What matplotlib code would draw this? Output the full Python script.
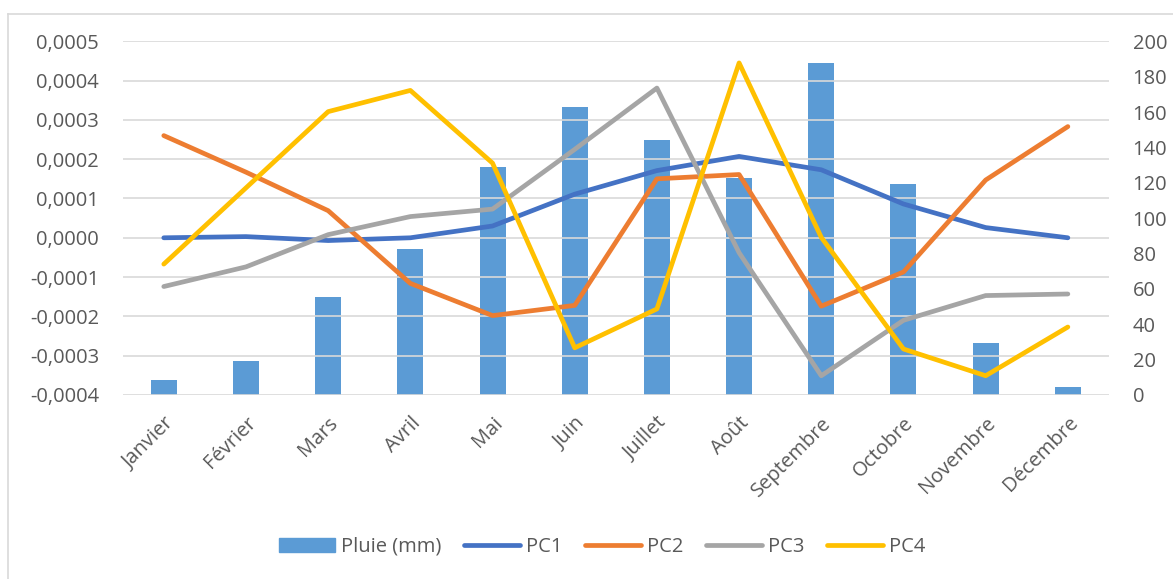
import matplotlib
matplotlib.use("Agg")
import matplotlib.pyplot as plt
from matplotlib.ticker import FuncFormatter
from matplotlib.lines import Line2D
import numpy as np

# données
mois = ["Janvier", "Février", "Mars", "Avril", "Mai", "Juin",
        "Juillet", "Août", "Septembre", "Octobre", "Novembre", "Décembre"]
pluie = [8.7, 19.1, 55.6, 82.4, 129.1, 163.1, 144.2, 122.7, 187.7, 119.3, 29.5, 4.5]
pc1 = [0.0, 0.000003, -0.000007, 0.0, 0.00003, 0.000111,
       0.000171, 0.000207, 0.000173, 0.000086, 0.000026, 0.0]
pc2 = [0.00026, 0.000167, 0.000069, -0.000116, -0.000198, -0.000172,
       0.00015, 0.000161, -0.000174, -0.000087, 0.000147, 0.000283]
pc3 = [-0.000124, -0.000074, 0.000008, 0.000054, 0.000073, 0.000225,
       0.000381, -0.000038, -0.000351, -0.00021, -0.000147, -0.000143]
pc4 = [-0.000067, 0.000127, 0.000321, 0.000375, 0.000190, -0.00028,
       -0.000181, 0.000445, 0.000001, -0.000283, -0.000351, -0.000227]

couleurs = {"PC1": "#4472C4", "PC2": "#ED7D31", "PC3": "#A5A5A5", "PC4": "#FFC000"}
bleu_barre = "#5B9BD5"
gris_texte = "#595959"

plt.rcParams['font.family'] = ['Open Sans', 'DejaVu Sans']
plt.rcParams['font.size'] = 14.5

fig = plt.figure(figsize=(11.73, 5.79), dpi=100)
ax = fig.add_axes([0.1046, 0.3178, 0.8408, 0.6109])
ax2 = ax.twinx()

x = np.arange(len(mois))

# barres sur l'axe de droite
ax2.bar(x, pluie, width=0.316, color=bleu_barre, zorder=1)
ax2.set_ylim(0, 200)
ax2.set_yticks(np.arange(0, 201, 20))

# courbes sur l'axe de gauche
for nom, serie in zip(["PC1", "PC2", "PC3", "PC4"], [pc1, pc2, pc3, pc4]):
    ax.plot(x, serie, color=couleurs[nom], lw=3.4, solid_capstyle="round",
            solid_joinstyle="round", zorder=3)

ax.set_zorder(ax2.get_zorder() + 1)
ax.patch.set_visible(False)

ax.set_xlim(-0.5, 11.5)
ax.set_ylim(-0.0004, 0.0005)
ax.set_yticks(np.arange(-4, 6) * 0.0001)
ax.yaxis.set_major_formatter(
    FuncFormatter(lambda v, p: ("%.4f" % round(v, 6)).replace(".", ",").replace("-0,0000", "0,0000")))

ax.grid(axis="y", color="#D9D9D9", lw=1.2, zorder=0)
ax.set_axisbelow(True)

for a in (ax, ax2):
    for s in a.spines.values():
        s.set_visible(False)

ax.tick_params(axis="y", length=0, pad=17, colors=gris_texte)
ax2.tick_params(axis="y", length=0, pad=17, colors=gris_texte)
ax.tick_params(axis="x", length=0, pad=13, colors=gris_texte)

ax.set_xticks(x)
ax.set_xticklabels(mois, rotation=45, ha="right", va="top", rotation_mode="anchor")

# légende
poignees = [plt.Rectangle((0, 0), 1, 1, color=bleu_barre)]
poignees += [Line2D([0], [0], color=couleurs[n], lw=3.4, solid_capstyle="round")
             for n in ["PC1", "PC2", "PC3", "PC4"]]
fig.legend(poignees, ["Pluie (mm)", "PC1", "PC2", "PC3", "PC4"],
           loc="center", bbox_to_anchor=(602 / 1173, 1 - 546.7 / 579),
           ncol=5, frameon=False, handlelength=2.8, handleheight=0.7,
           handletextpad=0.3, columnspacing=1.1, labelcolor=gris_texte,
           fontsize=14.5)

# cadre du graphique
fig.add_artist(Line2D([8 / 1173, 8 / 1173], [0, 1 - 14 / 579], color="#D9D9D9", lw=1.2))
fig.add_artist(Line2D([8 / 1173, 1], [1 - 14 / 579, 1 - 14 / 579], color="#D9D9D9", lw=1.2))

fig.savefig("out.png", dpi=100)
